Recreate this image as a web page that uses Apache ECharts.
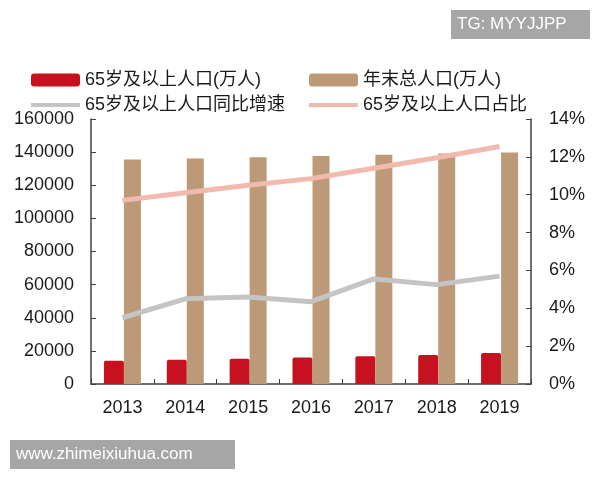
<!DOCTYPE html>
<html>
<head>
<meta charset="utf-8">
<script src="https://cdn.jsdelivr.net/npm/echarts@6/dist/echarts.min.js"></script>
<style>
	html, body { margin: 0; padding: 0; background: #fff; }
	#main { width: 600px; height: 480px; }
</style>
</head>
<body>
<div id="main"></div>
<script>
	//年份
	var years = ['2013', '2014', '2015', '2016', '2017', '2018', '2019'];
	//65岁及以上人口(万人)
	var elderPop = [14100, 14700, 15300, 16000, 16700, 17500, 18700];
	//年末总人口(万人)
	var totalPop = [135500, 136200, 136900, 137700, 138400, 139100, 139700];
	//65岁及以上人口同比增速(%)
	var elderGrowth = [3.5, 4.5, 4.6, 4.35, 5.55, 5.25, 5.7];
	//65岁及以上人口占比(%)
	var elderShare = [9.7, 10.1, 10.5, 10.85, 11.4, 11.95, 12.55];

	var names = ['65岁及以上人口(万人)', '年末总人口(万人)', '65岁及以上人口同比增速', '65岁及以上人口占比'];

	var numFont = '"Liberation Sans", Arial, sans-serif';
	var cjkFont = '"Liberation Sans", "Noto Sans CJK SC", sans-serif';

	var legendBase = {
		orient: 'vertical',
		itemWidth: 49,
		itemHeight: 13,
		itemGap: 7,
		padding: 0,
		textStyle: {
			fontFamily: cjkFont,
			fontSize: 18,
			color: '#1a1a1a',
			lineHeight: 13
		}
	};

	var option = {
		backgroundColor: '#fff',
		animation: false,
		legend: [
			Object.assign({}, legendBase, {
				left: 29,
				top: 71,
				data: [names[0], { name: names[2], itemStyle: { opacity: 0 }, lineStyle: { width: 4 } }]
			}),
			Object.assign({}, legendBase, {
				left: 307,
				top: 71,
				data: [names[1], { name: names[3], itemStyle: { opacity: 0 }, lineStyle: { width: 4 } }]
			})
		],
		grid: {
			left: 91,
			right: 69,
			top: 119,
			bottom: 96,
			containLabel: false
		},
		xAxis: [{
			type: 'category',
			data: years,
			axisLine: { lineStyle: { color: '#404040', width: 1.5 } },
			axisTick: { show: true, inside: true, length: 5, lineStyle: { color: '#404040' } },
			axisLabel: { fontFamily: numFont, fontSize: 18, color: '#1a1a1a', margin: 15 },
			splitLine: { show: false }
		}],
		yAxis: [{
			type: 'value',
			min: 0,
			max: 160000,
			interval: 20000,
			axisLine: { show: true, lineStyle: { color: '#404040', width: 1.5 } },
			axisTick: { show: true, inside: true, length: 5, lineStyle: { color: '#404040' } },
			axisLabel: {
				fontFamily: numFont, fontSize: 18, color: '#1a1a1a', margin: 17,
				formatter: function (v) { return String(v); }
			},
			splitLine: { show: false }
		}, {
			type: 'value',
			min: 0,
			max: 14,
			interval: 2,
			position: 'right',
			axisLine: { show: true, lineStyle: { color: '#404040', width: 1.5 } },
			axisTick: { show: true, inside: true, length: 5, lineStyle: { color: '#404040' } },
			axisLabel: { fontFamily: numFont, fontSize: 18, color: '#1a1a1a', margin: 18, formatter: '{value}%' },
			splitLine: { show: false }
		}],
		series: [{
			name: names[0],
			type: 'bar',
			data: elderPop,
			barWidth: 20,
			barGap: '0%',
			itemStyle: { color: '#C8111F', borderRadius: [2, 2, 0, 0] }
		}, {
			name: names[1],
			type: 'bar',
			data: totalPop,
			barWidth: 17,
			itemStyle: { color: '#BC9A78' }
		}, {
			name: names[2],
			type: 'line',
			yAxisIndex: 1,
			data: elderGrowth,
			symbol: 'none',
			lineStyle: { color: '#C4C4C4', width: 5 },
			itemStyle: { color: '#C4C4C4' }
		}, {
			name: names[3],
			type: 'line',
			yAxisIndex: 1,
			data: elderShare,
			symbol: 'none',
			lineStyle: { color: '#F2B9AE', width: 5 },
			itemStyle: { color: '#F2B9AE' }
		}],
		graphic: [{
			type: 'group',
			left: 451,
			top: 10,
			children: [{
				type: 'rect',
				shape: { x: 0, y: 0, width: 139, height: 29 },
				style: { fill: '#A6A6A6' }
			}, {
				type: 'text',
				x: 6,
				y: 14.5,
				style: { text: 'TG: MYYJJPP', fill: '#fff', font: '17px "Liberation Sans", Arial, sans-serif', verticalAlign: 'middle' }
			}]
		}, {
			type: 'group',
			left: 10,
			top: 440,
			children: [{
				type: 'rect',
				shape: { x: 0, y: 0, width: 225, height: 29 },
				style: { fill: '#A6A6A6' }
			}, {
				type: 'text',
				x: 6,
				y: 14.5,
				style: { text: 'www.zhimeixiuhua.com', fill: '#fff', font: '17px "Liberation Sans", Arial, sans-serif', verticalAlign: 'middle' }
			}]
		}]
	};

	var chart = echarts.init(document.getElementById('main'));
	chart.setOption(option);
</script>
</body>
</html>
